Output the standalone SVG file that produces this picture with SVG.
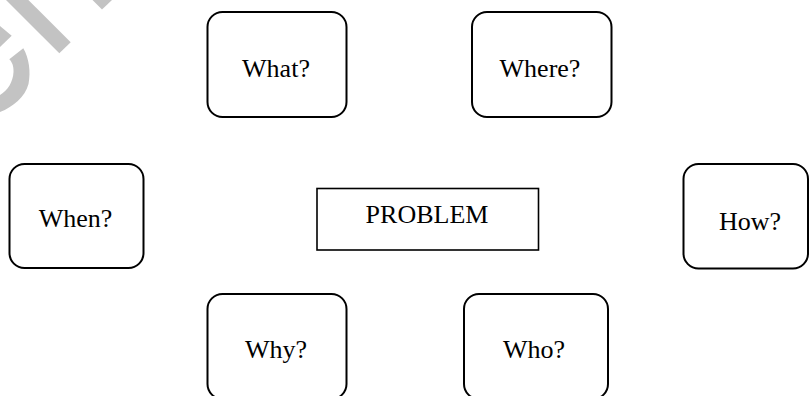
<svg xmlns="http://www.w3.org/2000/svg" width="809" height="396" viewBox="0 0 809 396">
  <style>
    .box { fill: #fff; stroke: #000; stroke-width: 2; }
    .core { fill: #fff; stroke: #000; stroke-width: 1.6; }
    .lbl { font-family: "Liberation Serif", "Times New Roman", serif; font-size: 26px; fill: #000; text-anchor: middle; }
    .wm { fill: #c3c3c3; stroke: none; }
  </style>
  <rect width="809" height="396" fill="#fff"/>
  <g id="watermark">
    <polygon class="wm" points="6,0 28.4,0 70.7,42.3 59.3,53.3"/>
    <polygon class="wm" points="92.5,0 112,0 102,9.5"/>
    <polygon class="wm" points="0,26 11.7,35.7 0,47"/>
    <path class="wm" d="M 23.3,48.3 C 29,58 31,72 28.5,84 C 25,97 13,107 0,112 L 0,95 C 8,90 13,82 13.5,72 C 13.8,66 12,62 9.3,59.3 Z"/>
  </g>
  <g id="connectors"></g>
  <g id="what">
    <rect class="box" x="207.5" y="12" width="139" height="105" rx="15"/>
    <text class="lbl" x="276" y="77">What?</text>
  </g>
  <g id="where">
    <rect class="box" x="472" y="12" width="139.5" height="105" rx="15"/>
    <text class="lbl" x="540" y="77">Where?</text>
  </g>
  <g id="when">
    <rect class="box" x="9.5" y="164" width="134" height="104" rx="15"/>
    <text class="lbl" x="75.5" y="227">When?</text>
  </g>
  <g id="problem">
    <rect class="core" x="317" y="188.5" width="221.5" height="61.5"/>
    <text class="lbl" x="427" y="223">PROBLEM</text>
  </g>
  <g id="how">
    <rect class="box" x="683.5" y="164" width="124.5" height="104.5" rx="15"/>
    <text class="lbl" x="750" y="230">How?</text>
  </g>
  <g id="why">
    <rect class="box" x="207.5" y="294" width="139" height="105" rx="15"/>
    <text class="lbl" x="276" y="358">Why?</text>
  </g>
  <g id="who">
    <rect class="box" x="464" y="294" width="144" height="105" rx="15"/>
    <text class="lbl" x="534" y="358">Who?</text>
  </g>
</svg>
